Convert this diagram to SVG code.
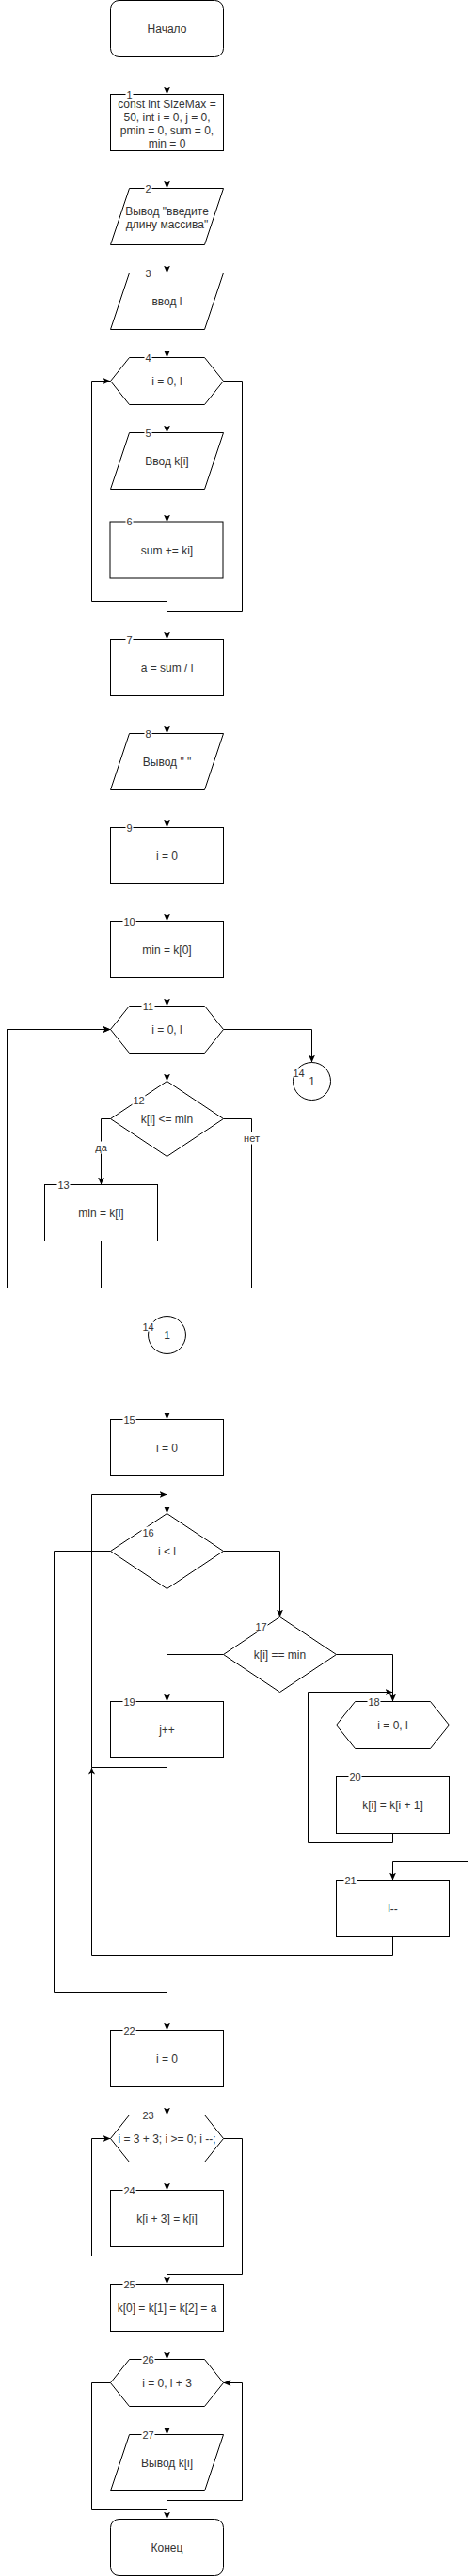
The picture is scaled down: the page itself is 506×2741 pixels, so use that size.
<svg xmlns="http://www.w3.org/2000/svg" width="506" height="2741" viewBox="0 0 506 2741">
<style>
.s{fill:#fff;stroke:#000;stroke-width:1}
.e{fill:none;stroke:#000;stroke-width:1}
.t{font-family:"Liberation Sans",Arial,sans-serif;font-size:12px;fill:#333;text-anchor:middle;dominant-baseline:central}
.n{font-family:"Liberation Sans",Arial,sans-serif;font-size:11px;fill:#333;text-anchor:middle;dominant-baseline:central}
.bg{fill:#fff;stroke:none}
</style>
<defs>
<marker id="a" viewBox="0 0 8 8" refX="8" refY="4" markerWidth="8" markerHeight="8" orient="auto" markerUnits="userSpaceOnUse">
<path d="M0,0.5 L8,4 L0,7.5 L2,4 z" fill="#000"/>
</marker>
</defs>
<rect width="506" height="2741" fill="#fff"/>
<g transform="translate(0.5,0.5)">
<g id="connectors">
<path class="e" d="M177,60 V100" marker-end="url(#a)"/>
<path class="e" d="M177,160 V200" marker-end="url(#a)"/>
<path class="e" d="M177,260 V290" marker-end="url(#a)"/>
<path class="e" d="M177,350 V380" marker-end="url(#a)"/>
<path class="e" d="M177,430 V460" marker-end="url(#a)"/>
<path class="e" d="M177,520 V555" marker-end="url(#a)"/>
<path class="e" d="M177,615 V640 H97 V405 H117" marker-end="url(#a)"/>
<path class="e" d="M237,405 H257 V650 H177 V680" marker-end="url(#a)"/>
<path class="e" d="M177,740 V780" marker-end="url(#a)"/>
<path class="e" d="M177,840 V880" marker-end="url(#a)"/>
<path class="e" d="M177,940 V980" marker-end="url(#a)"/>
<path class="e" d="M177,1040 V1070" marker-end="url(#a)"/>
<path class="e" d="M177,1120 V1150" marker-end="url(#a)"/>
<path class="e" d="M237,1095 H331 V1130" marker-end="url(#a)"/>
<path class="e" d="M117,1190 H107 V1260" marker-end="url(#a)"/>
<path class="e" d="M237,1190 H267 V1370 H7 V1095 H117" marker-end="url(#a)"/>
<path class="e" d="M107,1320 V1370 H7 V1095 H117" marker-end="url(#a)"/>
<path class="e" d="M177,1440 V1510" marker-end="url(#a)"/>
<path class="e" d="M177,1570 V1610" marker-end="url(#a)"/>
<path class="e" d="M237,1650 H297 V1720" marker-end="url(#a)"/>
<path class="e" d="M117,1650 H57 V2120 H177 V2160" marker-end="url(#a)"/>
<path class="e" d="M237,1760 H177 V1810" marker-end="url(#a)"/>
<path class="e" d="M357,1760 H417 V1810" marker-end="url(#a)"/>
<path class="e" d="M177,1870 V1880 H97 V1590 H177" marker-end="url(#a)"/>
<path class="e" d="M417,2060 V2080 H97 V1880" marker-end="url(#a)"/>
<path class="e" d="M417,1950 V1960 H327 V1800 H417" marker-end="url(#a)"/>
<path class="e" d="M477,1835 H497 V1980 H417 V2000" marker-end="url(#a)"/>
<path class="e" d="M177,2220 V2250" marker-end="url(#a)"/>
<path class="e" d="M177,2300 V2330" marker-end="url(#a)"/>
<path class="e" d="M177,2390 V2400 H97 V2275 H117" marker-end="url(#a)"/>
<path class="e" d="M237,2275 H257 V2420 H177 V2430" marker-end="url(#a)"/>
<path class="e" d="M177,2480 V2510" marker-end="url(#a)"/>
<path class="e" d="M177,2560 V2590" marker-end="url(#a)"/>
<path class="e" d="M177,2650 V2660 H257 V2535 H237" marker-end="url(#a)"/>
<path class="e" d="M117,2535 H97 V2670 H177 V2680" marker-end="url(#a)"/>
<rect class="bg" x="100" y="1214" width="14" height="13"/>
<text class="n" x="107" y="1220">да</text>
<rect class="bg" x="257" y="1204" width="20" height="13"/>
<text class="n" x="267" y="1210">нет</text>
</g>
<g id="start"><rect class="s" x="117" y="0" width="120" height="60" rx="9"/><text class="t" x="177" y="30">Начало</text></g>
<g id="n1"><rect class="s" x="117" y="100" width="120" height="60"/>
<text class="t" x="177" y="110">const int SizeMax =</text><text class="t" x="177" y="124">50, int i = 0, j = 0,</text><text class="t" x="177" y="138">pmin = 0, sum = 0,</text><text class="t" x="177" y="152">min = 0</text>
<rect class="bg" x="133" y="95" width="8" height="9"/><text class="n" x="137" y="100">1</text></g>
<g id="n2"><path class="s" d="M137,200 H237 L217,260 H117 Z"/><text class="t" x="177" y="224">Вывод "введите</text><text class="t" x="177" y="238">длину массива"</text>
<rect class="bg" x="153" y="195" width="8" height="9"/><text class="n" x="157" y="200">2</text></g>
<g id="n3"><path class="s" d="M137,290 H237 L217,350 H117 Z"/><text class="t" x="177" y="320">ввод l</text>
<rect class="bg" x="153" y="285" width="8" height="9"/><text class="n" x="157" y="290">3</text></g>
<g id="n4"><path class="s" d="M117,405 L137,380 H217 L237,405 L217,430 H137 Z"/><text class="t" x="177" y="405">i = 0, l</text>
<rect class="bg" x="153" y="375" width="8" height="9"/><text class="n" x="157" y="380">4</text></g>
<g id="n5"><path class="s" d="M137,460 H237 L217,520 H117 Z"/><text class="t" x="177" y="490">Ввод k[i]</text>
<rect class="bg" x="153" y="455" width="8" height="9"/><text class="n" x="157" y="460">5</text></g>
<g id="n6"><rect class="s" x="116.5" y="554.5" width="120" height="60"/><text class="t" x="177" y="585">sum += ki]</text>
<rect class="bg" x="133" y="549" width="8" height="9"/><text class="n" x="137" y="554">6</text></g>
<g id="n7"><rect class="s" x="117" y="680" width="120" height="60"/><text class="t" x="177" y="710">a = sum / l</text>
<rect class="bg" x="133" y="675" width="8" height="9"/><text class="n" x="137" y="680">7</text></g>
<g id="n8"><path class="s" d="M137,780 H237 L217,840 H117 Z"/><text class="t" x="177" y="810">Вывод " "</text>
<rect class="bg" x="153" y="775" width="8" height="9"/><text class="n" x="157" y="780">8</text></g>
<g id="n9"><rect class="s" x="117" y="880" width="120" height="60"/><text class="t" x="177" y="910">i = 0</text>
<rect class="bg" x="133" y="875" width="8" height="9"/><text class="n" x="137" y="880">9</text></g>
<g id="n10"><rect class="s" x="117" y="980" width="120" height="60"/><text class="t" x="177" y="1010">min = k[0]</text>
<rect class="bg" x="130" y="975" width="14" height="9"/><text class="n" x="137" y="980">10</text></g>
<g id="n11"><path class="s" d="M117,1095 L137,1070 H217 L237,1095 L217,1120 H137 Z"/><text class="t" x="177" y="1095">i = 0, l</text>
<rect class="bg" x="150" y="1065" width="14" height="9"/><text class="n" x="157" y="1070">11</text></g>
<g id="n12"><path class="s" d="M177,1150 L237,1190 L177,1230 L117,1190 Z"/><text class="t" x="177" y="1190">k[i] &lt;= min</text>
<rect class="bg" x="140" y="1165" width="14" height="11"/><text class="n" x="147" y="1170">12</text></g>
<g id="n13"><rect class="s" x="47" y="1260" width="120" height="60"/><text class="t" x="107" y="1290">min = k[i]</text>
<rect class="bg" x="60" y="1255" width="14" height="9"/><text class="n" x="67" y="1260">13</text></g>
<g id="n14a"><circle class="s" cx="331" cy="1150" r="20"/><text class="t" x="331" y="1150">1</text>
<rect class="bg" x="311" y="1136" width="12" height="10"/><text class="n" x="317" y="1141">14</text></g>
<g id="n14b"><circle class="s" cx="177" cy="1420" r="20"/><text class="t" x="177" y="1420">1</text>
<rect class="bg" x="151" y="1406" width="12" height="10"/><text class="n" x="157" y="1411">14</text></g>
<g id="n15"><rect class="s" x="117" y="1510" width="120" height="60"/><text class="t" x="177" y="1540">i = 0</text>
<rect class="bg" x="130" y="1505" width="14" height="9"/><text class="n" x="137" y="1510">15</text></g>
<g id="n16"><path class="s" d="M177,1610 L237,1650 L177,1690 L117,1650 Z"/><text class="t" x="177" y="1650">i &lt; l</text>
<rect class="bg" x="150" y="1624" width="14" height="12"/><text class="n" x="157" y="1630">16</text></g>
<g id="n17"><path class="s" d="M297,1720 L357,1760 L297,1800 L237,1760 Z"/><text class="t" x="297" y="1760">k[i] == min</text>
<rect class="bg" x="270" y="1725" width="14" height="11"/><text class="n" x="277" y="1730">17</text></g>
<g id="n18"><path class="s" d="M357,1835 L377,1810 H457 L477,1835 L457,1860 H377 Z"/><text class="t" x="417" y="1835">i = 0, l</text>
<rect class="bg" x="390" y="1805" width="14" height="9"/><text class="n" x="397" y="1810">18</text></g>
<g id="n19"><rect class="s" x="117" y="1810" width="120" height="60"/><text class="t" x="177" y="1840">j++</text>
<rect class="bg" x="130" y="1805" width="14" height="9"/><text class="n" x="137" y="1810">19</text></g>
<g id="n20"><rect class="s" x="357" y="1890" width="120" height="60"/><text class="t" x="417" y="1920">k[i] = k[i + 1]</text>
<rect class="bg" x="370" y="1885" width="14" height="9"/><text class="n" x="377" y="1890">20</text></g>
<g id="n21"><rect class="s" x="357" y="2000" width="120" height="60"/><text class="t" x="417" y="2030">l--</text>
<rect class="bg" x="365" y="1995" width="14" height="9"/><text class="n" x="372" y="2000">21</text></g>
<g id="n22"><rect class="s" x="117" y="2160" width="120" height="60"/><text class="t" x="177" y="2190">i = 0</text>
<rect class="bg" x="130" y="2155" width="14" height="9"/><text class="n" x="137" y="2160">22</text></g>
<g id="n23"><path class="s" d="M117,2275 L137,2250 H217 L237,2275 L217,2300 H137 Z"/><text class="t" x="177" y="2275">i = 3 + 3; i &gt;= 0; i --;</text>
<rect class="bg" x="150" y="2245" width="14" height="9"/><text class="n" x="157" y="2250">23</text></g>
<g id="n24"><rect class="s" x="117" y="2330" width="120" height="60"/><text class="t" x="177" y="2360">k[i + 3] = k[i]</text>
<rect class="bg" x="130" y="2325" width="14" height="9"/><text class="n" x="137" y="2330">24</text></g>
<g id="n25"><rect class="s" x="117" y="2430" width="120" height="50"/><text class="t" x="177" y="2455">k[0] = k[1] = k[2] = a</text>
<rect class="bg" x="130" y="2425" width="14" height="9"/><text class="n" x="137" y="2430">25</text></g>
<g id="n26"><path class="s" d="M117,2535 L137,2510 H217 L237,2535 L217,2560 H137 Z"/><text class="t" x="177" y="2535">i = 0, l + 3</text>
<rect class="bg" x="150" y="2505" width="14" height="9"/><text class="n" x="157" y="2510">26</text></g>
<g id="n27"><path class="s" d="M137,2590 H237 L217,2650 H117 Z"/><text class="t" x="177" y="2620">Вывод k[i]</text>
<rect class="bg" x="150" y="2585" width="14" height="9"/><text class="n" x="157" y="2590">27</text></g>
<g id="end"><rect class="s" x="117" y="2680" width="120" height="60" rx="9"/><text class="t" x="177" y="2710">Конец</text></g>
</g>
</svg>
